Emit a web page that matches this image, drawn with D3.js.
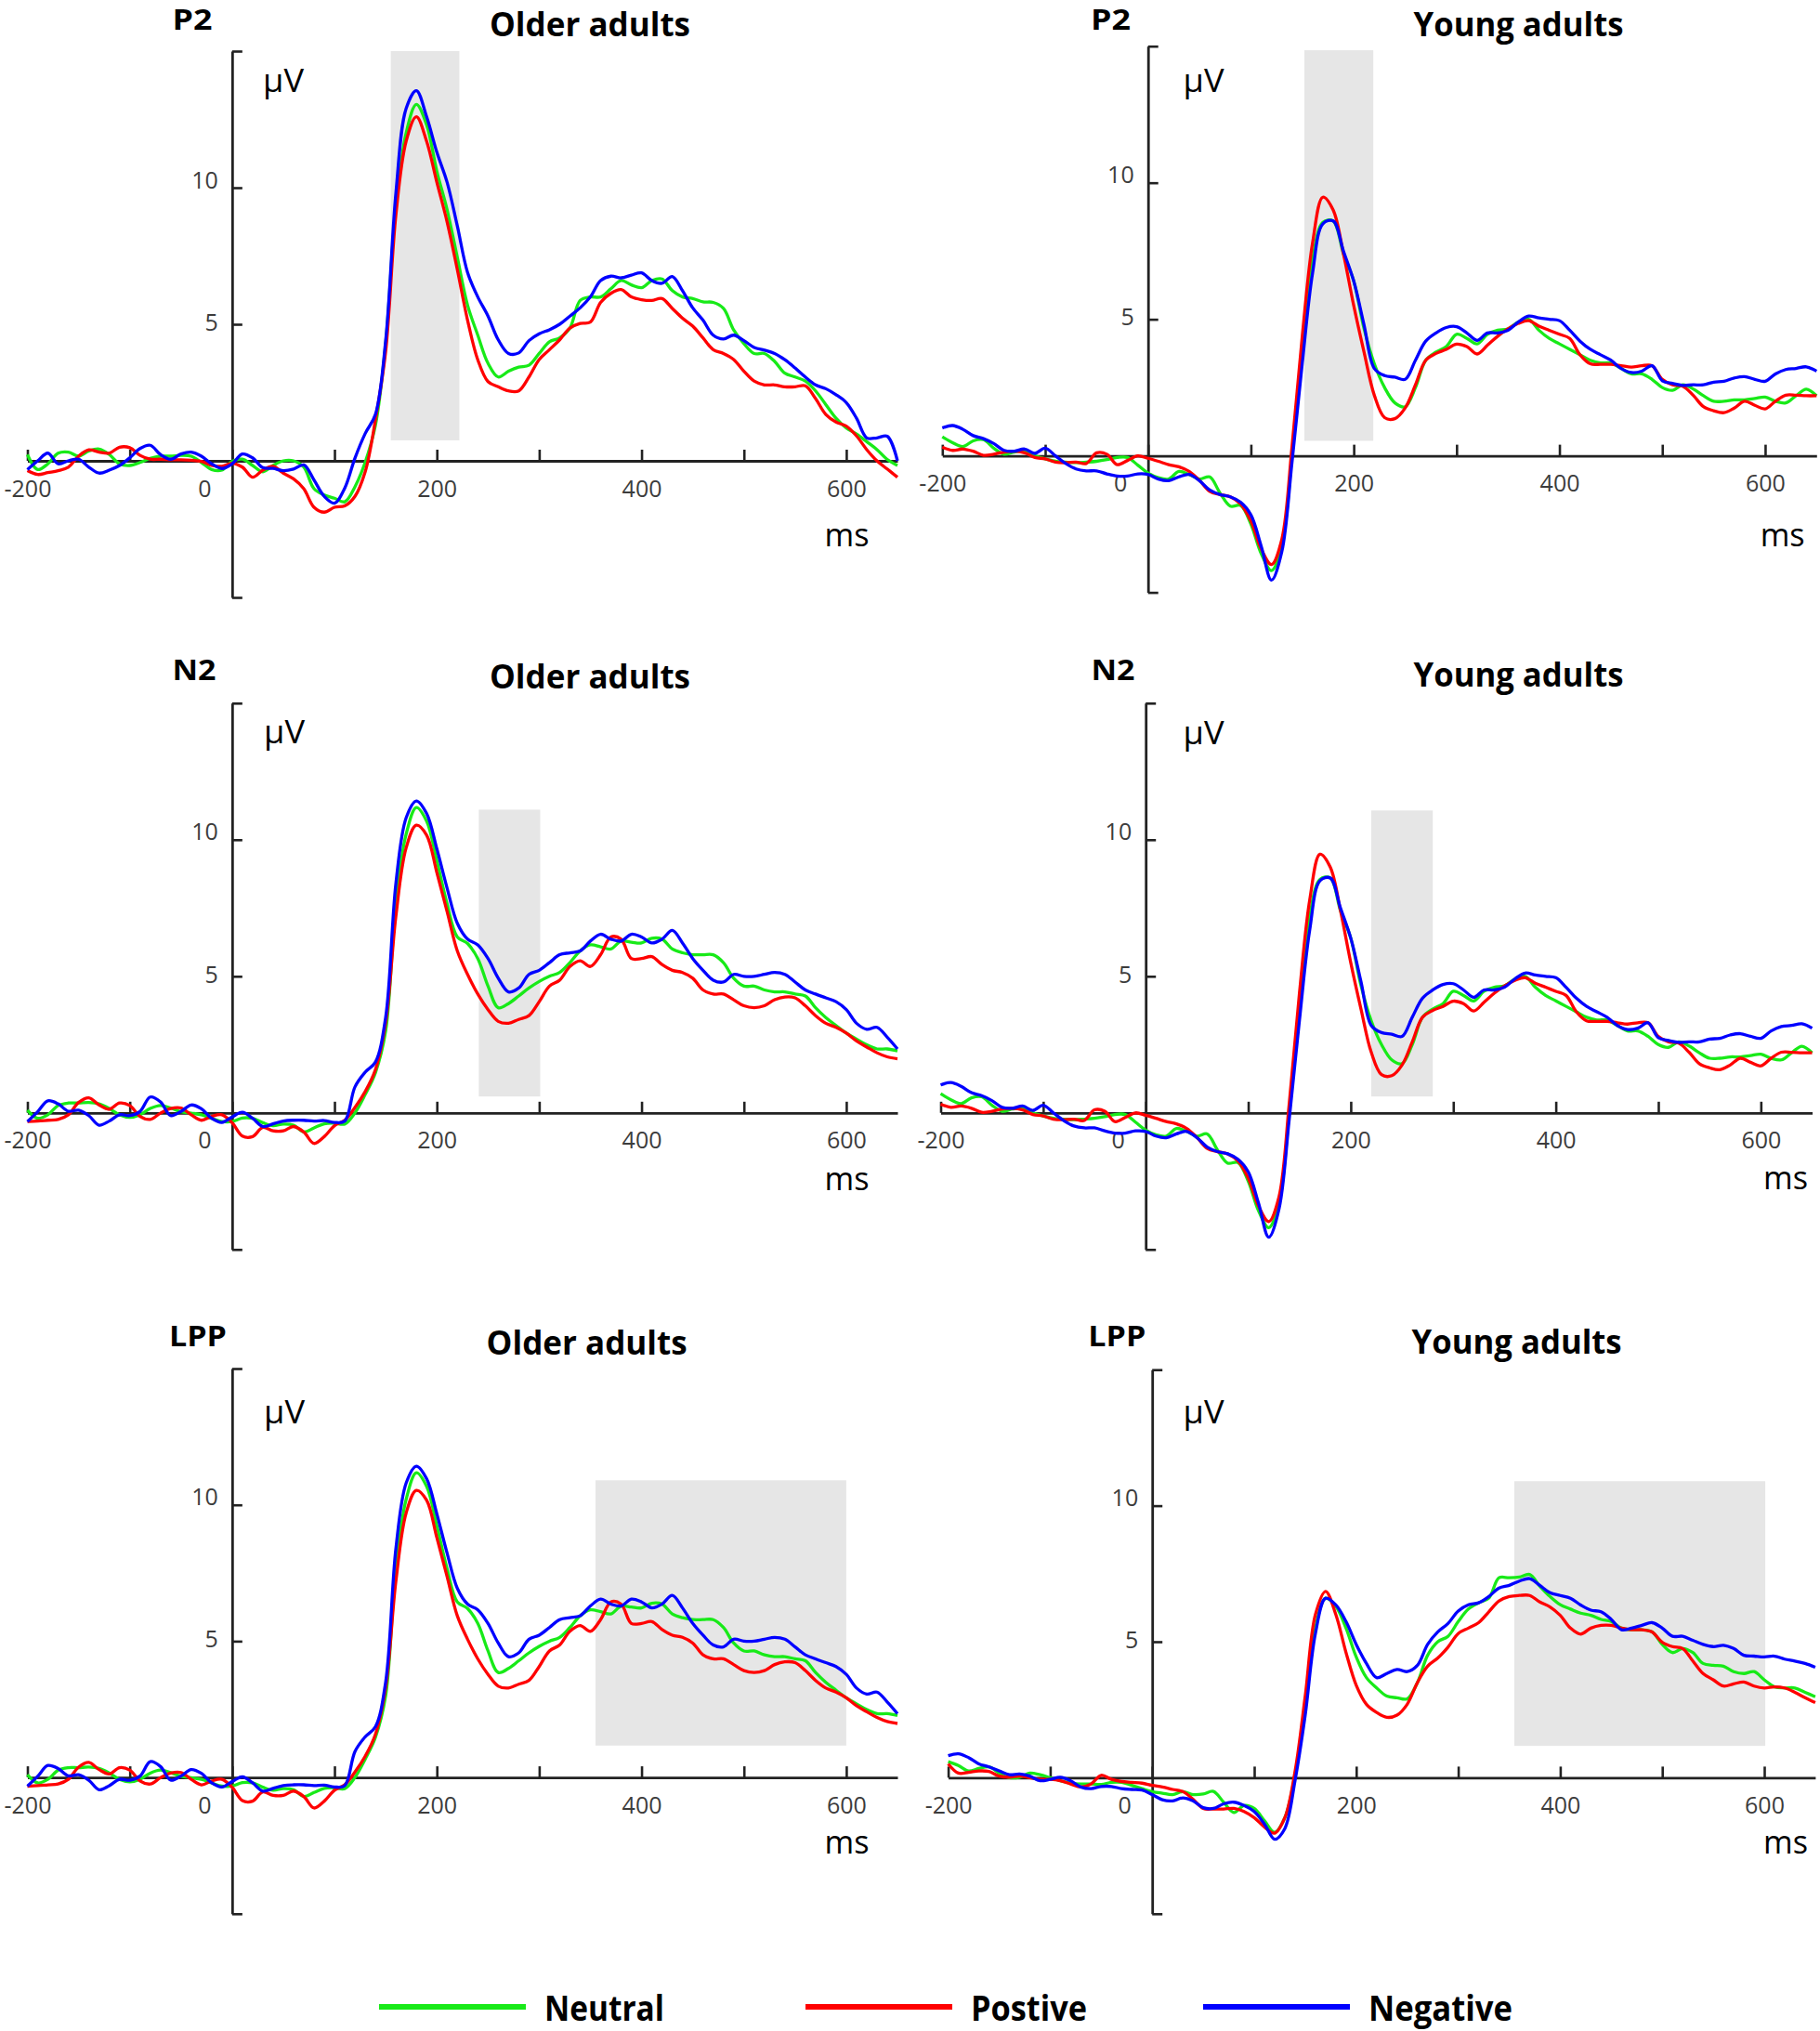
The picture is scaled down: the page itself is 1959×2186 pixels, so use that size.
<!DOCTYPE html>
<html><head><meta charset="utf-8">
<script src="https://cdn.jsdelivr.net/npm/d3@7"></script>
<style>html,body{margin:0;padding:0;background:#fff;} svg{display:block;}</style>
</head><body>
<script>
// ---------- data ----------
const timesMs = d3.range(-200, 651, 10);            // sampling grid, ms
const conditions = ["Neutral", "Postive", "Negative"];
const condColors = ["#18ea18", "#ff0000", "#0000ff"];
const components = ["P2", "N2", "LPP"];
const groups = ["Older adults", "Young adults"];
const xTickValues = [-200, -100, 0, 100, 200, 300, 400, 500, 600];
const xTickLabels = [-200, 0, 200, 400, 600];
const yTickValues = [-5, 5, 10, 15];
const yTickLabels = [5, 10];
const xLabel = "ms", yLabel = "\u00B5V";

// Older adults, P2 site
const olderP2Neutral = [
 0.23,-0.32,-0.11,0.28,0.32,0.17,0.36,0.43,0.23,-0.11,
 -0.17,-0.06,0.09,0.17,0.17,0.2,0.17,-0.06,-0.32,-0.34,
 -0.02,0.06,-0.17,-0.4,-0.17,0,0,-0.23,-1.02,-1.25,
 -1.37,-1.5,-0.95,-0.05,1.3,4.3,9.3,12.0,13.05,12.3,
 10.6,9.2,7.45,5.7,4.6,3.57,3.07,3.28,3.43,3.5,
 3.93,4.36,4.5,4.86,5.87,6.0,6.0,6.3,6.6,6.44,
 6.34,6.6,6.66,6.23,6.0,5.94,5.82,5.8,5.58,4.79,
 4.29,3.93,3.93,3.64,3.21,3.07,2.92,2.56,2.06,1.56,
 1.2,0.98,0.7,0.41,0.05,-0.17];
const olderP2Positive = [
 -0.36,-0.5,-0.43,-0.36,-0.23,0.17,0.4,0.32,0.28,0.5,
 0.48,0.2,0.06,0.06,0.04,0.04,0.02,-0.02,-0.17,-0.2,
 -0.09,-0.23,-0.6,-0.34,-0.2,-0.45,-0.66,-1.02,-1.7,-1.88,
 -1.7,-1.65,-1.3,-0.4,1.5,4.0,9.0,11.7,12.6,11.7,
 10.2,8.75,7.0,5.15,3.7,2.9,2.71,2.56,2.56,3.07,
 3.71,4.07,4.43,4.86,5.03,5.08,5.8,6.13,6.27,6.0,
 5.9,5.87,5.94,5.58,5.22,4.93,4.5,4.07,3.93,3.71,
 3.28,2.92,2.78,2.78,2.71,2.71,2.75,2.28,1.7,1.42,
 1.27,0.91,0.41,0,-0.3,-0.6];
const olderP2Negative = [
 -0.32,0,0.28,-0.11,0,0.06,-0.23,-0.45,-0.34,-0.17,
 0.11,0.45,0.57,0.23,0.06,0.25,0.32,0.17,-0.11,-0.28,
 -0.11,0.25,0.11,-0.25,-0.28,-0.36,-0.3,-0.15,-0.7,-1.3,
 -1.55,-1.0,0.1,1.0,1.7,4.4,9.8,12.9,13.55,12.6,
 11.3,10.2,8.6,6.9,6.0,5.3,4.43,3.93,3.95,4.4,
 4.65,4.8,5.0,5.3,5.6,6.0,6.6,6.76,6.7,6.8,
 6.88,6.6,6.5,6.75,6.23,5.6,5.15,4.6,4.46,4.6,
 4.4,4.15,4.05,3.93,3.7,3.4,3.07,2.78,2.64,2.42,
 2.13,1.56,0.84,0.84,0.9,0];

// Older adults, N2 / LPP sites
const olderN2Neutral = [
 0.1,-0.2,-0.07,0.27,0.36,0.36,0.38,0.33,0.16,-0.07,
 -0.16,-0.07,0.16,0.27,0.18,0.04,-0.01,-0.07,-0.2,-0.32,
 -0.32,-0.19,-0.2,-0.36,-0.47,-0.41,-0.45,-0.7,-0.55,-0.4,
 -0.38,-0.41,0,0.67,1.47,3.0,7.7,10.2,11.18,10.68,
 9.24,7.66,6.44,6.2,5.65,4.64,3.85,4.0,4.28,4.57,
 4.81,5.0,5.14,5.5,5.93,6.15,6.08,6.0,6.29,6.25,
 6.22,6.39,6.36,6.0,5.86,5.79,5.79,5.79,5.5,4.93,
 4.64,4.64,4.5,4.43,4.43,4.35,4.28,3.85,3.49,3.2,
 2.92,2.7,2.49,2.34,2.34,2.27];
const olderN2Positive = [
 -0.32,-0.3,-0.27,-0.24,-0.07,0.38,0.55,0.29,0.13,0.36,
 0.27,-0.13,-0.24,-0.01,0.16,0.18,-0.07,-0.27,-0.13,-0.07,
 -0.36,-0.85,-0.87,-0.53,-0.66,-0.66,-0.5,-0.7,-1.12,-0.87,
 -0.47,-0.27,0.2,0.78,1.58,3.3,7.2,9.7,10.53,10.17,
 8.8,7.37,5.93,5.07,4.35,3.78,3.35,3.28,3.42,3.56,
 4.07,4.64,4.86,5.36,5.57,5.36,5.79,6.44,6.36,5.65,
 5.65,5.72,5.43,5.22,5.14,4.93,4.5,4.35,4.35,4.14,
 3.92,3.85,3.92,4.14,4.24,4.21,3.92,3.56,3.28,3.13,
 2.92,2.63,2.41,2.2,2.05,1.98];
const olderN2Negative = [
 -0.32,0.04,0.44,0.33,0.06,0.1,-0.1,-0.45,-0.3,-0.07,
 -0.1,0.05,0.58,0.4,-0.1,0.05,0.29,0.15,-0.2,-0.35,
 -0.15,0.02,-0.2,-0.5,-0.4,-0.3,-0.27,-0.27,-0.3,-0.28,
 -0.35,-0.3,0.95,1.49,1.86,3.5,8.4,10.8,11.42,10.96,
 9.67,8.23,6.94,6.36,6.15,5.65,4.93,4.43,4.57,5.07,
 5.22,5.5,5.79,5.86,5.93,6.29,6.54,6.36,6.29,6.54,
 6.44,6.22,6.36,6.68,6.22,5.65,5.22,4.86,4.79,5.07,
 5.0,5.0,5.07,5.14,5.07,4.79,4.5,4.35,4.21,4.07,
 3.78,3.28,3.06,3.13,2.77,2.34];

// Young adults, P2 / N2 sites
const youngP2Neutral = [
 0.7,0.48,0.34,0.55,0.59,0.28,0.06,0.14,0.17,0,
 -0.11,-0.2,-0.23,-0.25,-0.23,-0.2,-0.14,-0.06,-0.06,-0.34,
 -0.63,-0.8,-0.85,-0.57,-0.68,-0.85,-0.77,-1.36,-1.84,-1.82,
 -2.5,-3.58,-4.2,-3.3,0,3.8,7.2,8.55,8.6,7.4,
 6.4,4.66,3.37,2.5,1.94,1.8,2.5,3.5,3.8,4.0,
 4.45,4.3,4.1,4.45,4.6,4.65,4.9,5.0,4.6,4.3,
 4.1,3.9,3.7,3.5,3.4,3.4,3.2,3.0,3.0,2.8,
 2.5,2.4,2.6,2.45,2.2,2.0,2.0,2.05,2.05,2.1,
 2.15,2.0,1.94,2.2,2.44,2.2];
const youngP2Positive = [
 0.32,0.2,0.25,0.17,0.02,0.06,0.14,0.17,0.11,-0.06,
 -0.11,-0.23,-0.25,-0.23,-0.28,0.11,0.06,-0.32,-0.17,0,
 -0.09,-0.2,-0.32,-0.4,-0.57,-0.9,-1.3,-1.42,-1.5,-1.76,
 -2.39,-3.41,-3.98,-3.07,0.34,4.4,7.8,9.47,9.0,7.4,
 5.5,3.8,2.22,1.4,1.36,1.75,2.6,3.5,3.75,3.9,
 4.09,4.0,3.73,4.05,4.38,4.65,4.85,4.95,4.75,4.6,
 4.45,4.3,3.7,3.37,3.35,3.35,3.3,3.25,3.3,3.3,
 2.8,2.6,2.55,2.22,1.8,1.65,1.58,1.75,2.0,1.85,
 1.72,2.0,2.22,2.22,2.2,2.2];
const youngP2Negative = [
 1.02,1.11,0.97,0.74,0.63,0.45,0.2,0.17,0.25,0.09,
 0.28,0,-0.28,-0.48,-0.55,-0.55,-0.66,-0.74,-0.74,-0.66,
 -0.68,-0.85,-0.91,-0.77,-0.68,-0.91,-1.25,-1.42,-1.5,-1.7,
 -2.16,-3.3,-4.55,-3.52,-0.23,3.4,6.7,8.5,8.6,7.5,
 6.4,4.8,3.2,2.94,2.88,2.8,3.5,4.2,4.5,4.7,
 4.73,4.5,4.23,4.5,4.5,4.6,4.9,5.12,5.05,5.0,
 4.95,4.6,4.2,3.9,3.7,3.5,3.2,3.05,3.1,3.3,
 2.75,2.65,2.58,2.6,2.6,2.7,2.73,2.85,2.9,2.8,
 2.73,3.0,3.16,3.2,3.26,3.1];

// Young adults, LPP site
const youngLPPNeutral = [
 0.59,0.45,0.25,0.34,0.4,0.17,0,0.02,0.17,0.11,
 0,-0.11,-0.2,-0.23,-0.23,-0.25,-0.17,-0.17,-0.28,-0.4,
 -0.51,-0.57,-0.62,-0.51,-0.62,-0.6,-0.5,-0.9,-1.28,-1.02,
 -1.13,-1.58,-2.01,-1.47,0.11,2.6,5.5,6.6,6.3,5.5,
 4.44,3.68,3.3,3.0,2.94,2.9,3.5,4.5,5.0,5.2,
 5.74,6.2,6.43,6.6,7.35,7.35,7.38,7.47,7.04,6.66,
 6.36,6.2,6.05,5.97,5.82,5.74,5.5,5.44,5.44,5.36,
 4.9,4.6,4.75,4.6,4.2,4.13,4.1,3.9,3.83,3.9,
 3.6,3.34,3.3,3.3,3.14,2.98];
const youngLPPPositive = [
 0.51,0.17,0.2,0.25,0.23,0.06,0.02,0.06,0,-0.06,
 -0.06,-0.11,-0.23,-0.34,-0.23,0.09,-0.06,-0.14,-0.17,-0.2,
 -0.28,-0.34,-0.43,-0.51,-0.79,-1.13,-1.15,-1.15,-1.13,-1.24,
 -1.47,-1.81,-2.04,-1.47,0.23,3.0,6.0,6.85,6.0,4.6,
 3.4,2.7,2.4,2.22,2.3,2.7,3.5,4.1,4.4,4.8,
 5.3,5.5,5.7,6.1,6.5,6.66,6.7,6.7,6.46,6.28,
 5.97,5.5,5.28,5.5,5.6,5.6,5.5,5.44,5.44,5.36,
 4.98,4.82,4.75,4.29,3.83,3.6,3.37,3.45,3.52,3.37,
 3.3,3.34,3.3,3.14,2.94,2.76];
const youngLPPNegative = [
 0.81,0.88,0.74,0.51,0.4,0.25,0.11,0.14,0.06,-0.11,
 -0.06,0.02,-0.11,-0.34,-0.4,-0.32,-0.32,-0.4,-0.43,-0.45,
 -0.62,-0.81,-0.85,-0.74,-0.85,-1.1,-1.13,-0.96,-0.9,-1.02,
 -1.24,-1.7,-2.26,-1.87,-0.11,2.3,5.3,6.6,6.35,5.74,
 4.9,4.2,3.68,3.83,3.98,3.9,4.13,4.9,5.36,5.67,
 6.13,6.36,6.43,6.66,6.97,7.07,7.23,7.32,7.07,6.8,
 6.7,6.6,6.35,6.16,6.1,5.82,5.44,5.5,5.6,5.7,
 5.5,5.2,5.2,5.05,4.9,4.82,4.87,4.75,4.5,4.47,
 4.44,4.47,4.36,4.29,4.2,4.06];

// analysis windows: [startMs, endMs, lowUV, highUV]
const windowP2Older = [155, 222, 0.75, 15];
const windowP2Young = [152, 219, 0.55, 14.85];
const windowN2Older = [241, 301, 0.6, 11.1];
const windowN2Young = [220, 280, 0.6, 11.07];
const windowLPPOlder = [355, 600, 1.17, 10.9];
const windowLPPYoung = [355, 601, 1.17, 10.9];

// ---------- layout ----------
const W = 1959, H = 2186;
const panels = [
 {comp: components[0], group: groups[0], series: [olderP2Neutral, olderP2Positive, olderP2Negative], win: windowP2Older,
  xr: [29.5, 966], yr: [643, 55], comp_xy: [207, 32], comp_w: 43, title_xy: [635, 39], uv_xy: [283, 99], ms_xy: [911.5, 588]},
 {comp: components[0], group: groups[1], series: [youngP2Neutral, youngP2Positive, youngP2Negative], win: windowP2Young,
  xr: [1014.3, 1955.3], yr: [637.6, 49.7], comp_xy: [1195.5, 32], comp_w: 43, title_xy: [1634.5, 38.5], uv_xy: [1273.5, 99], ms_xy: [1918.7, 588]},
 {comp: components[1], group: groups[0], series: [olderN2Neutral, olderN2Positive, olderN2Negative], win: windowN2Older,
  xr: [29.5, 966], yr: [1344.8, 756.8], comp_xy: [209, 731.5], comp_w: 47, title_xy: [635, 740.5], uv_xy: [284, 800], ms_xy: [911.5, 1281]},
 {comp: components[1], group: groups[1], series: [youngP2Neutral, youngP2Positive, youngP2Negative], win: windowN2Young,
  xr: [1012.5, 1950.5], yr: [1344.8, 756.8], comp_xy: [1198, 731.5], comp_w: 47, title_xy: [1634.5, 738.5], uv_xy: [1273.5, 801], ms_xy: [1922, 1280]},
 {comp: components[2], group: groups[0], series: [olderN2Neutral, olderN2Positive, olderN2Negative], win: windowLPPOlder,
  xr: [29.5, 966], yr: [2059.8, 1473], comp_xy: [213, 1449], comp_w: 62, title_xy: [631.6, 1457.5], uv_xy: [284, 1531.5], ms_xy: [911.5, 1994.5]},
 {comp: components[2], group: groups[1], series: [youngLPPNeutral, youngLPPPositive, youngLPPNegative], win: windowLPPYoung,
  xr: [1020.6, 1953.9], yr: [2059.8, 1474.2], comp_xy: [1202.3, 1449], comp_w: 62, title_xy: [1632.6, 1457], uv_xy: [1273.5, 1531.5], ms_xy: [1922, 1994.5]}
];

const FONT = "'Open Sans', 'DejaVu Sans', sans-serif";
const AXIS = "#222";
const TICKCOL = "#3c3c3c";

const svg = d3.select("body").append("svg")
  .attr("width", W).attr("height", H).attr("viewBox", `0 0 ${W} ${H}`);
svg.append("rect").attr("width", W).attr("height", H).attr("fill", "#fff");

panels.forEach(p => {
  const x = d3.scaleLinear().domain([-200, 650]).range(p.xr);
  const y = d3.scaleLinear().domain([-5, 15]).range(p.yr);
  const g = svg.append("g");

  // analysis window
  g.append("rect")
    .attr("x", x(p.win[0])).attr("width", x(p.win[1]) - x(p.win[0]))
    .attr("y", y(p.win[3])).attr("height", y(p.win[2]) - y(p.win[3]))
    .attr("fill", "#e6e6e6");

  // x axis (at 0 µV), ticks pointing up
  const xAxis = d3.axisBottom(x).tickValues(xTickValues).tickSizeInner(-12).tickSizeOuter(0)
    .tickFormat(d => xTickLabels.includes(d) ? String(d) : "");
  const gx = g.append("g").attr("transform", `translate(0,${y(0)})`).call(xAxis);
  gx.select(".domain").attr("stroke", AXIS).attr("stroke-width", 2.8);
  gx.selectAll(".tick line").attr("stroke", AXIS).attr("stroke-width", 2.6);
  gx.selectAll(".tick text").filter(function () { return this.textContent === ""; }).remove();
  gx.selectAll(".tick text")
    .attr("y", 38.5).attr("dy", null)
    .attr("x", d => d === 0 ? -30 : 0)
    .attr("fill", TICKCOL).attr("font-size", 25).attr("font-family", FONT);

  // y axis (at 0 ms), ticks pointing right, labels on left
  const yAxis = d3.axisRight(y).tickValues(yTickValues).tickSizeInner(11).tickSizeOuter(0)
    .tickFormat(d => yTickLabels.includes(d) ? String(d) : "");
  const gy = g.append("g").attr("transform", `translate(${x(0)},0)`).call(yAxis);
  gy.select(".domain").attr("stroke", AXIS).attr("stroke-width", 2.8);
  gy.selectAll(".tick line").attr("stroke", AXIS).attr("stroke-width", 2.6);
  gy.selectAll(".tick text").filter(function () { return this.textContent === ""; }).remove();
  gy.selectAll(".tick text")
    .attr("x", -15).attr("dy", d => d === 5 ? "0.25em" : "0em").attr("text-anchor", "end")
    .attr("fill", TICKCOL).attr("font-size", 25).attr("font-family", FONT);

  // waveforms
  const line = d3.line()
    .x((d, i) => x(timesMs[i]))
    .y(d => y(d))
    .curve(d3.curveCatmullRom.alpha(0.5));
  p.series.forEach((s, k) => {
    g.append("path").datum(s)
      .attr("d", line)
      .attr("fill", "none")
      .attr("stroke", condColors[k])
      .attr("stroke-width", 3.3)
      .attr("stroke-linejoin", "round");
  });

  // labels
  g.append("text").text(p.comp)
    .attr("x", p.comp_xy[0]).attr("y", p.comp_xy[1]).attr("text-anchor", "middle")
    .attr("font-family", FONT).attr("font-weight", 700).attr("font-size", 30)
    .attr("textLength", p.comp_w).attr("lengthAdjust", "spacingAndGlyphs");
  g.append("text").text(p.group)
    .attr("x", p.title_xy[0]).attr("y", p.title_xy[1]).attr("text-anchor", "middle")
    .attr("font-family", FONT).attr("font-weight", 700).attr("font-size", 36)
    .attr("textLength", p.group === "Older adults" ? 216 : 226).attr("lengthAdjust", "spacingAndGlyphs");
  g.append("text").text(yLabel)
    .attr("x", p.uv_xy[0]).attr("y", p.uv_xy[1])
    .attr("font-family", FONT).attr("font-size", 34)
    .attr("textLength", 44).attr("lengthAdjust", "spacingAndGlyphs");
  g.append("text").text(xLabel)
    .attr("x", p.ms_xy[0]).attr("y", p.ms_xy[1]).attr("text-anchor", "middle")
    .attr("font-family", FONT).attr("font-size", 35)
    .attr("textLength", 48).attr("lengthAdjust", "spacingAndGlyphs");
});

// legend
const legendLineX = [408, 867, 1295];
const legendTextW = [129, 125, 155];
const legendY = 2160;
conditions.forEach((c, i) => {
  svg.append("line")
    .attr("x1", legendLineX[i]).attr("x2", legendLineX[i] + 158)
    .attr("y1", legendY).attr("y2", legendY)
    .attr("stroke", condColors[i]).attr("stroke-width", 6);
  svg.append("text").text(c)
    .attr("x", legendLineX[i] + 178).attr("y", 2175)
    .attr("font-family", FONT).attr("font-weight", 700).attr("font-size", 38)
    .attr("textLength", legendTextW[i]).attr("lengthAdjust", "spacingAndGlyphs");
});
</script>
</body></html>
